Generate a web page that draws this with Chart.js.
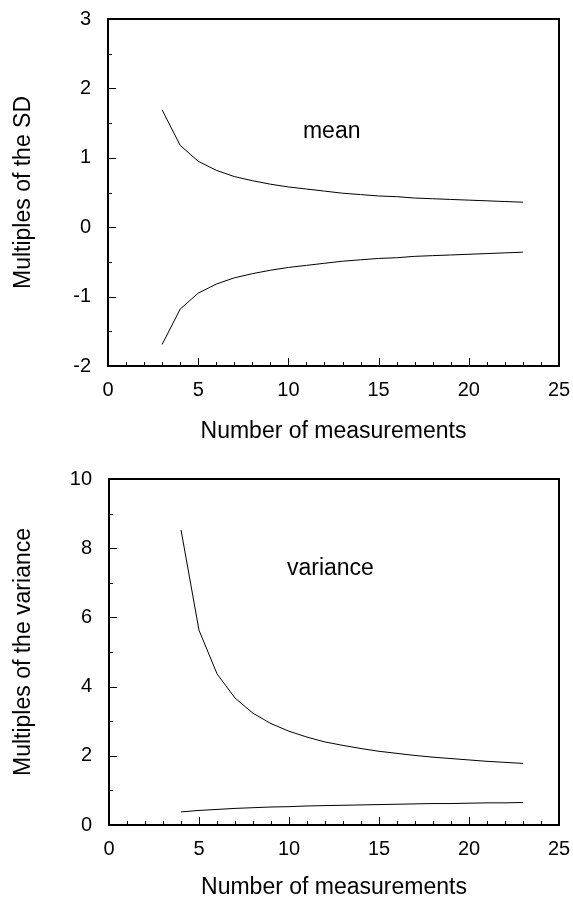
<!DOCTYPE html>
<html>
<head>
<meta charset="utf-8">
<script src="https://cdn.jsdelivr.net/npm/chart.js@4.4.1/dist/chart.umd.min.js"></script>
<style>
    body { margin: 0; background: #fff; }
    .panel { position: relative; width: 573px; }
</style>
</head>
<body>
<div class="panel" style="height:449px"><canvas id="meanChart" width="573" height="449"></canvas></div>
<div class="panel" style="height:450px"><canvas id="varChart" width="573" height="450"></canvas></div>
<script>
"use strict";

// confidence limits for the mean, in multiples of the SD
const meanN = [3, 4, 5, 6, 7, 8, 9, 10, 11, 12, 13, 14, 15, 16, 17, 18, 19, 20, 21, 22, 23];
const meanUpper = [1.69, 1.18, 0.95, 0.82, 0.73, 0.67, 0.62, 0.58, 0.55, 0.52, 0.49,
    0.47, 0.45, 0.44, 0.42, 0.41, 0.40, 0.39, 0.38, 0.37, 0.36];
const meanLower = [-1.69, -1.18, -0.95, -0.82, -0.73, -0.67, -0.62, -0.58, -0.55, -0.52, -0.49,
    -0.47, -0.45, -0.44, -0.42, -0.41, -0.40, -0.39, -0.38, -0.37, -0.36];

// confidence limits for the variance, in multiples of the variance
const varN = [4, 5, 6, 7, 8, 9, 10, 11, 12, 13, 14, 15, 16, 17, 18, 19, 20, 21, 22, 23];
const varUpper = [8.53, 5.63, 4.37, 3.67, 3.23, 2.93, 2.71, 2.54, 2.40, 2.30,
    2.21, 2.13, 2.07, 2.01, 1.96, 1.92, 1.88, 1.84, 1.81, 1.78];
const varLower = [0.38, 0.42, 0.45, 0.48, 0.50, 0.52, 0.53, 0.55, 0.56, 0.57,
    0.58, 0.59, 0.60, 0.61, 0.62, 0.62, 0.63, 0.64, 0.64, 0.65];

const xTitle = 'Number of measurements';
const FONT = "'Liberation Sans', Arial, sans-serif";

const toPoints = (xs, ys) => xs.map((x, i) => ({x: x, y: ys[i]}));

const lineSet = (pts) => ({
    data: pts,
    borderColor: '#000',
    borderWidth: 1,
    pointRadius: 0,
    fill: false,
    tension: 0
});

// frame, inward tick marks and the label inside the plot
const framePlugin = {
    id: 'frame',
    afterDatasetsDraw(chart, args, opts) {
        const ctx = chart.ctx;
        const a = chart.chartArea;
        const xs = chart.scales.x;
        const ys = chart.scales.y;
        ctx.save();
        ctx.strokeStyle = '#000';
        ctx.lineWidth = 1;
        ctx.beginPath();
        for (let v = xs.min + 1; v < xs.max; v++) {
            const px = Math.round(xs.getPixelForValue(v)) + 0.5;
            const len = v % 5 === 0 ? 8 : 4;
            ctx.moveTo(px, a.bottom);
            ctx.lineTo(px, a.bottom - len);
        }
        for (let v = ys.min + opts.minorY; v < ys.max - 1e-6; v += opts.minorY) {
            const py = Math.round(ys.getPixelForValue(v)) + 0.5;
            const major = Math.abs(v / opts.majorY - Math.round(v / opts.majorY)) < 1e-6;
            ctx.moveTo(a.left, py);
            ctx.lineTo(a.left + (major ? 8 : 4), py);
        }
        ctx.stroke();
        ctx.lineWidth = 2;
        ctx.strokeRect(a.left, a.top, a.right - a.left, a.bottom - a.top);
        ctx.fillStyle = '#000';
        ctx.font = '23px ' + FONT;
        ctx.textAlign = 'center';
        ctx.textBaseline = 'middle';
        ctx.fillText(opts.label, xs.getPixelForValue(opts.labelX), ys.getPixelForValue(opts.labelY));
        ctx.restore();
    }
};

// fixed axis boxes, no extra room for the edge labels
const fixBox = (scale, w, h) => {
    if (w !== null) scale.width = w;
    if (h !== null) scale.height = h;
    scale.paddingLeft = 0;
    scale.paddingRight = 0;
    scale.paddingTop = 0;
    scale.paddingBottom = 0;
};

const makeChart = (id, sets, yMin, yMax, yStep, minorY, yTitle, yWidth, xHeight, padTop, titlePad, label, labelX, labelY) => {
    return new Chart(document.getElementById(id), {
        type: 'line',
        data: {datasets: sets},
        plugins: [framePlugin],
        options: {
            responsive: false,
            animation: false,
            events: [],
            layout: {padding: {top: padTop, right: 14, left: 0, bottom: 0}},
            plugins: {
                legend: {display: false},
                tooltip: {enabled: false},
                frame: {minorY: minorY, majorY: yStep, label: label, labelX: labelX, labelY: labelY}
            },
            scales: {
                x: {
                    type: 'linear',
                    min: 0,
                    max: 25,
                    grid: {display: false, drawTicks: false},
                    border: {display: false},
                    ticks: {stepSize: 5, padding: 12, color: '#000', font: {family: FONT, size: 20}},
                    title: {display: true, text: xTitle, color: '#000', padding: {top: 0, bottom: titlePad},
                        font: {family: FONT, size: 23, lineHeight: 1}},
                    afterFit: (scale) => fixBox(scale, null, xHeight)
                },
                y: {
                    type: 'linear',
                    min: yMin,
                    max: yMax,
                    grid: {display: false, drawTicks: false},
                    border: {display: false},
                    ticks: {stepSize: yStep, padding: 17, color: '#000', font: {family: FONT, size: 20}},
                    title: {display: true, text: yTitle, color: '#000', padding: {top: 12, bottom: 0},
                        font: {family: FONT, size: 23, lineHeight: 1}},
                    afterFit: (scale) => fixBox(scale, yWidth, null)
                }
            }
        }
    });
};

makeChart('meanChart',
    [lineSet(toPoints(meanN, meanUpper)), lineSet(toPoints(meanN, meanLower))],
    -2, 3, 1, 0.5, 'Multiples of the SD', 108, 83, 19, 6, 'mean', 12.4, 1.38);

makeChart('varChart',
    [lineSet(toPoints(varN, varUpper)), lineSet(toPoints(varN, varLower))],
    0, 10, 2, 1, 'Multiples of the variance', 109, 74, 30, 0, 'variance', 12.3, 7.4);
</script>
</body>
</html>
